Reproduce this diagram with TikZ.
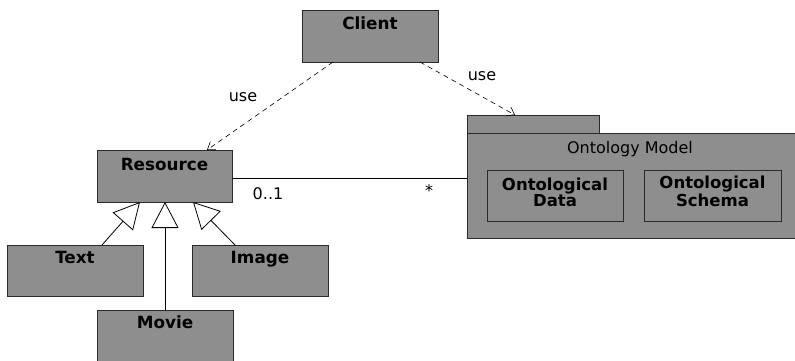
\documentclass[tikz,border=0pt]{standalone}
\usepackage{fontspec}
\setmainfont{DejaVu Sans}
\usetikzlibrary{arrows.meta}
\definecolor{boxgrey}{HTML}{8E8E8E}
\definecolor{edgegrey}{HTML}{2A2A2A}
\tikzset{
  x=1pt, y=-1pt,
  umlbox/.style={draw=edgegrey, line width=0.9pt, fill=boxgrey},
  classname/.style={font=\fontsize{16.8}{17}\selectfont\bfseries, inner sep=0pt, anchor=base},
  twoline/.style={font=\fontsize{16.5}{16}\selectfont\bfseries, inner sep=0pt, align=center, anchor=base},
  plain/.style={font=\fontsize{16}{17}\selectfont, inner sep=0pt, anchor=base},
  uses/.style={dash pattern=on 5pt off 4pt, line width=0.6pt, -{Straight Barb[length=7pt, width=10pt]}},
  inherit/.style={line width=0.8pt, -{Triangle[open, length=26pt, width=27pt, fill=white]}},
  assoc/.style={line width=0.8pt}
}
\begin{document}
\begin{tikzpicture}
\useasboundingbox (0,0) rectangle (795,360);
\clip (0,0) rectangle (795,360);

% class boxes
\draw[umlbox] (302,10) rectangle (438,62);
\node[classname] (client) at (370,29) {Client};
\coordinate (clientA) at (333,62);
\coordinate (clientB) at (420,62);

\draw[umlbox] (97,150) rectangle (232,202);
\node[classname] (resource) at (164.5,170) {Resource};
\coordinate (resTop) at (207,150);
\coordinate (resRight) at (232,178);

\draw[umlbox] (7,245) rectangle (143,296);
\node[classname] (text) at (75,263) {Text};
\draw[umlbox] (192,245) rectangle (328,296);
\node[classname] (image) at (260,263) {Image};
\draw[umlbox] (97,310) rectangle (233,370);
\node[classname] (movie) at (165,328) {Movie};

% package with tab
\draw[umlbox] (467,115) rectangle (599,133);
\draw[umlbox] (467,133) rectangle (800,238);
\coordinate (pkgTab) at (515,115);
\coordinate (pkgLeft) at (467,178);
\node[plain] (pkgname) at (630,153) {Ontology Model};
\draw[umlbox] (487,170) rectangle (623,221);
\node[twoline] (odata) at (555,206) {Ontological\\Data};
\draw[umlbox] (644,170) rectangle (781,221);
\node[twoline] (oschema) at (712.5,206) {Ontological\\Schema};

% dependencies
\draw[uses] (clientA) -- (resTop);
\draw[uses] (clientB) -- (pkgTab);
\node[plain] (use1) at (243,101) {use};
\node[plain] (use2) at (482,80) {use};

% association
\draw[assoc] (resRight) -- (pkgLeft);
\node[plain] (m1) at (268,199) {0..1};
\node[plain] (m2) at (429,196) {*};

% generalizations
\coordinate (textTop) at (102,245);
\coordinate (tipText) at (140,202);
\coordinate (movieTop) at (165,310);
\coordinate (tipMovie) at (165,202);
\coordinate (imageTop) at (235,245);
\coordinate (tipImage) at (193,202);
\draw[inherit] (textTop) -- (tipText);
\draw[inherit] (movieTop) -- (tipMovie);
\draw[inherit] (imageTop) -- (tipImage);
\end{tikzpicture}
\end{document}
